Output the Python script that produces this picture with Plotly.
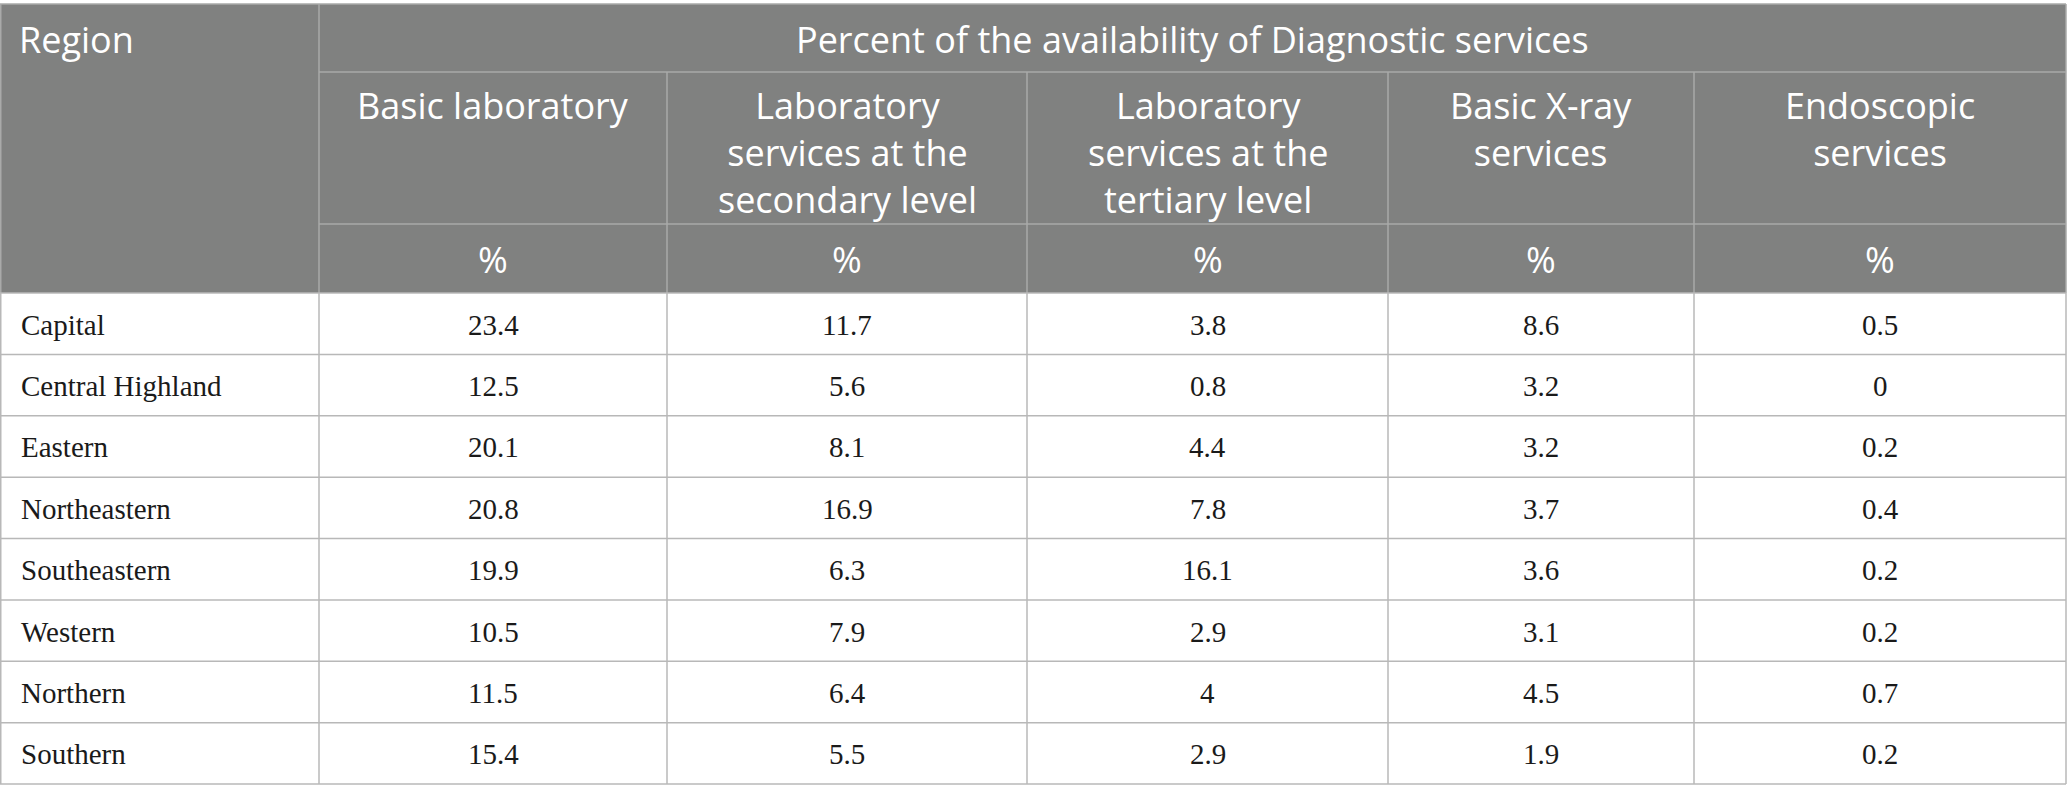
import plotly.graph_objects as go

regions = [
    "Capital",
    "Central Highland",
    "Eastern",
    "Northeastern",
    "Southeastern",
    "Western",
    "Northern",
    "Southern",
]
basic_lab = [23.4, 12.5, 20.1, 20.8, 19.9, 10.5, 11.5, 15.4]
lab_secondary = [11.7, 5.6, 8.1, 16.9, 6.3, 7.9, 6.4, 5.5]
lab_tertiary = [3.8, 0.8, 4.4, 7.8, 16.1, 2.9, 4, 2.9]
basic_xray = [8.6, 3.2, 3.2, 3.7, 3.6, 3.1, 4.5, 1.9]
endoscopic = [0.5, 0, 0.2, 0.4, 0.2, 0.2, 0.7, 0.2]

first_header = "Region"
span_header = "Percent of the availability of Diagnostic services"
column_headers = [
    "Basic laboratory",
    "Laboratory<br>services at the<br>secondary level",
    "Laboratory<br>services at the<br>tertiary level",
    "Basic X-ray<br>services",
    "Endoscopic<br>services",
]
unit_label = "%"

# layout (pixels of the 2068x802 page)
W, H = 2068, 802
col_edges = [0, 319, 667, 1027, 1388, 1694, 2066]
head_edges = [4, 72, 224, 293]
body_bottom = 784
head_fill = "#808180"
head_line = "#a9aaa9"
body_line = "#b8b8b8"
head_font = dict(family="Open Sans", size=36, color="white")
body_font = dict(family="Liberation Serif", size=29, color="#1a1a1a")

columns = [basic_lab, lab_secondary, lab_tertiary, basic_xray, endoscopic]
n_rows = len(regions)
row_h = (body_bottom - head_edges[-1]) / n_rows
row_edges = [head_edges[-1] + i * row_h for i in range(n_rows + 1)]


def hline(y, x0, x1, color):
    return dict(type="line", x0=x0, x1=x1, y0=y, y1=y,
                line=dict(color=color, width=1.5), layer="above")


def vline(x, y0, y1, color):
    return dict(type="line", x0=x, x1=x, y0=y0, y1=y1,
                line=dict(color=color, width=1.5), layer="above")


shapes = [
    dict(type="rect", x0=col_edges[0], x1=col_edges[-1],
         y0=head_edges[0], y1=head_edges[-1],
         fillcolor=head_fill, line=dict(width=0), layer="below"),
]
# header grid
shapes.append(hline(head_edges[0], col_edges[0], col_edges[-1], head_line))
for y in head_edges[1:3]:
    shapes.append(hline(y, col_edges[1], col_edges[-1], head_line))
shapes.append(vline(col_edges[0] + 0.75, head_edges[0], head_edges[-1], head_line))
shapes.append(vline(col_edges[1], head_edges[0], head_edges[-1], head_line))
for x in col_edges[2:-1]:
    shapes.append(vline(x, head_edges[1], head_edges[-1], head_line))
shapes.append(vline(col_edges[-1], head_edges[0], head_edges[-1], head_line))
# body grid
for y in row_edges:
    shapes.append(hline(y, col_edges[0], col_edges[-1], body_line))
for x in col_edges[1:-1]:
    shapes.append(vline(x, row_edges[0], row_edges[-1], body_line))
shapes.append(vline(col_edges[0] + 0.75, row_edges[0], row_edges[-1], body_line))
shapes.append(vline(col_edges[-1], row_edges[0], row_edges[-1], body_line))

annotations = []


def add_text(text, x, y, font, xanchor="center", yanchor="middle"):
    annotations.append(dict(
        text=text, x=x, y=y, xref="x", yref="y",
        xanchor=xanchor, yanchor=yanchor, showarrow=False, font=font,
    ))


add_text(first_header, col_edges[0] + 17, 39, head_font, xanchor="left")
add_text(span_header, (col_edges[1] + col_edges[-1]) / 2, 39, head_font)
for j, label in enumerate(column_headers):
    cx = (col_edges[j + 1] + col_edges[j + 2]) / 2
    add_text(label, cx, 79, head_font, yanchor="top")
    add_text(unit_label, cx, (head_edges[2] + head_edges[3]) / 2 + 1, head_font)

for i, region in enumerate(regions):
    cy = (row_edges[i] + row_edges[i + 1]) / 2 + 1
    add_text(region, col_edges[0] + 19, cy, body_font, xanchor="left")
    for j, values in enumerate(columns):
        cx = (col_edges[j + 1] + col_edges[j + 2]) / 2
        add_text(f"{values[i]:g}", cx, cy, body_font)

fig = go.Figure()
fig.update_layout(
    width=W,
    height=H,
    margin=dict(l=0, r=0, t=0, b=0),
    plot_bgcolor="white",
    paper_bgcolor="white",
    shapes=shapes,
    annotations=annotations,
    showlegend=False,
)
fig.update_xaxes(range=[0, W], visible=False, fixedrange=True)
fig.update_yaxes(range=[H, 0], visible=False, fixedrange=True)
fig.write_html(
    "out.html",
    config={"displayModeBar": False},
    post_script="document.body.style.margin='0px';"
    "document.body.style.overflow='hidden';",
)
